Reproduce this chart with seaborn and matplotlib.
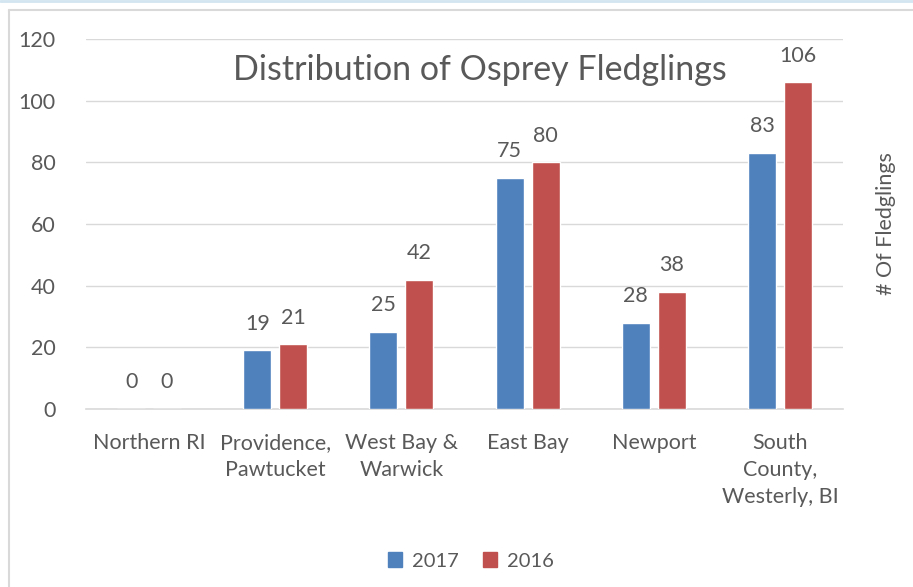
import pandas as pd
import seaborn as sns
import matplotlib.pyplot as plt
from matplotlib.patches import Rectangle
from matplotlib.lines import Line2D

regions = ["Northern RI", "Providence,\nPawtucket", "West Bay &\nWarwick",
           "East Bay", "Newport", "South\nCounty,\nWesterly, BI"]
fledglings_2017 = [0, 19, 25, 75, 28, 83]
fledglings_2016 = [0, 21, 42, 80, 38, 106]
years = ["2017", "2016"]
colors = ["#4F81BD", "#C0504D"]

sns.set_style("white")
plt.rcParams["font.family"] = ["Lato", "DejaVu Sans"]
text_color = "#595959"
grid_color = "#d9d9d9"

df = pd.DataFrame({
    "region": regions * 2,
    "year": ["2017"] * len(regions) + ["2016"] * len(regions),
    "count": fledglings_2017 + fledglings_2016,
})

fig = plt.figure(figsize=(9.13, 5.87), dpi=100)
ax = fig.add_axes([86 / 913, 1 - 409 / 587, 757 / 913, 370 / 587])

sns.barplot(data=df, x="region", y="count", hue="year", hue_order=years,
            palette=colors, saturation=1, width=0.57, gap=0.22, errorbar=None,
            legend=False, ax=ax, zorder=3)

for container in ax.containers:
    ax.bar_label(container, padding=12, fontsize=15.5, color=text_color)

ax.set_ylim(0, 120)
ax.set_yticks(range(0, 121, 20))
ax.grid(axis="y", color=grid_color, linewidth=1, zorder=0)
ax.set_axisbelow(True)
for side in ["top", "left", "right"]:
    ax.spines[side].set_visible(False)
ax.spines["bottom"].set_color(grid_color)
ax.spines["bottom"].set_linewidth(1.2)
ax.tick_params(axis="both", length=0, labelsize=15.5, colors=text_color)
ax.tick_params(axis="y", pad=22)
ax.tick_params(axis="x", pad=17)
for lbl in ax.get_xticklabels():
    lbl.set_linespacing(1.45)
ax.set_xlabel("")
ax.set_ylabel("# Of Fledglings", fontsize=15.5, color=text_color, labelpad=24)
ax.yaxis.set_label_position("right")

fig.text(480 / 913, 1 - 70 / 587, "Distribution of Osprey Fledglings",
         ha="center", va="center", fontsize=24.5, color=text_color)

handles = [Rectangle((0, 0), 1, 1, color=c) for c in colors]
fig.legend(handles, years, loc="center", bbox_to_anchor=(471 / 913, 1 - 561 / 587),
           ncol=2, frameon=False, fontsize=14.5, labelcolor=text_color,
           handlelength=0.7, handleheight=0.7, handletextpad=0.5, columnspacing=1.2)

# chart frame edges
fig.add_artist(Line2D([0, 1], [1 - 1 / 587] * 2, color="#d3e5f0", linewidth=2))
fig.add_artist(Line2D([8.5 / 913, 1], [1 - 9.5 / 587] * 2, color=grid_color, linewidth=1.5))
fig.add_artist(Line2D([8.5 / 913] * 2, [0, 1 - 9.5 / 587], color=grid_color, linewidth=1.5))

fig.savefig("out.png", dpi=100)
